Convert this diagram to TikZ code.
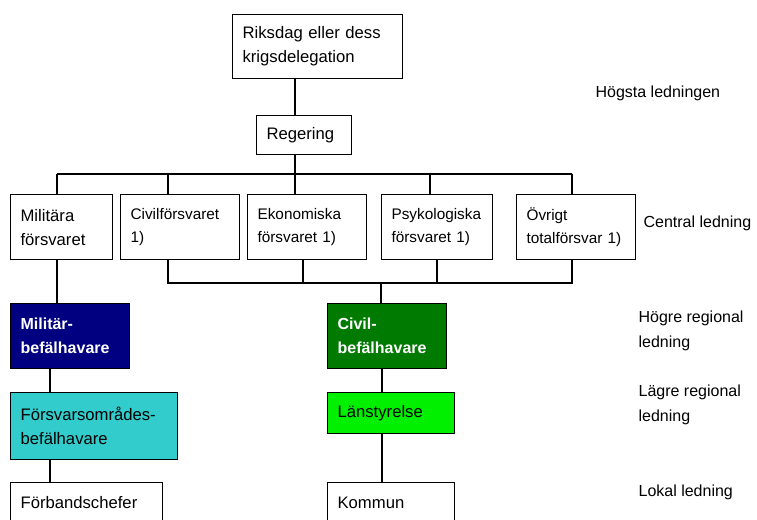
\documentclass[tikz,border=0pt]{standalone}
\usepackage{fontspec}
\setmainfont{Liberation Sans}
\definecolor{milblue}{HTML}{000080}
\definecolor{civgreen}{HTML}{007A00}
\definecolor{forcyan}{HTML}{33CCCC}
\definecolor{lanlime}{HTML}{00F000}
\begin{document}
\begin{tikzpicture}[x=0.75pt,y=-0.75pt,line width=0.9pt,
    box/.style={draw,anchor=north west,inner xsep=7.5pt,inner ysep=2pt,align=left,
      font=\fontsize{12.5}{18}\selectfont},
    small/.style={font=\fontsize{11.5}{17}\selectfont},
    dark/.style={text=white,font=\fontsize{12}{18}\selectfont\bfseries},
    level/.style={anchor=west,inner sep=0pt,align=left,font=\fontsize{12}{18.75}\selectfont}]
\useasboundingbox (0,0) rectangle (757,519);

% top
\node[box,text width=112.5pt,minimum height=48pt] (riksdag) at (232,14) {Riksdag eller dess\\krigsdelegation};
\node[box,text width=56.25pt,minimum height=29.25pt] (regering) at (256,115) {Regering};

% central row
\node[box,text width=61.5pt,minimum height=48.75pt] (mil) at (10,194) {Militära\\försvaret};
\node[box,small,text width=74.25pt,minimum height=48.75pt] (civ) at (120,194) {Civilförsvaret\\1)};
\node[box,small,text width=74.25pt,minimum height=48.75pt] (eko) at (247,194) {Ekonomiska\\försvaret 1)};
\node[box,small,text width=68.25pt,minimum height=48.75pt] (psy) at (381,194) {Psykologiska\\försvaret 1)};
\node[box,small,text width=74.25pt,minimum height=48.75pt] (ovr) at (516,194) {Övrigt\\totalförsvar 1)};

% regional and local
\node[box,dark,fill=milblue,text width=74.25pt,minimum height=48.75pt] (milbef) at (10,303) {Militär-\\befälhavare};
\node[box,dark,fill=civgreen,text width=74.25pt,minimum height=48.75pt] (civbef) at (327,303) {Civil-\\befälhavare};
\node[box,fill=forcyan,text width=110.25pt,minimum height=50.25pt] (fobef) at (10,392) {Försvarsområdes-\\befälhavare};
\node[box,fill=lanlime,text width=80.25pt,minimum height=30.75pt] (lan) at (327,392) {Länstyrelse};
\node[box,text width=99pt,minimum height=30pt] (forband) at (10,482) {Förbandschefer};
\node[box,text width=80.25pt,minimum height=30pt] (kommun) at (327,482) {Kommun};

% levels
\node[level] (hogsta) at (595,93) {Högsta ledningen};
\node[level] (central) at (643,223) {Central ledning};
\node[level] (hogre) at (638,331) {Högre regional\\ledning};
\node[level] (lagre) at (638,405) {Lägre regional\\ledning};
\node[level] (lokal) at (638,492) {Lokal ledning};

% connectors
\coordinate (trunk) at (295,174);
\coordinate (topL) at (57,174);
\coordinate (topR) at (572,174);
\coordinate (lowL) at (168,283);
\coordinate (lowR) at (572,283);
\draw (riksdag.south -| trunk) -- (regering.north -| trunk);
\draw (regering.south -| trunk) -- (trunk);
\draw (topL) -- (topR);
\foreach \n/\x in {mil/57,civ/168,eko/295,psy/430,ovr/572}
  \draw (\n.north -| \x,0) -- ++(0,-20);
\draw (lowL) -- (lowR);
\foreach \n/\x in {civ/168,eko/303,psy/437,ovr/572}
  \draw (\n.south -| \x,0) -- ++(0,24);
\draw (civbef.north -| 381,0) -- ++(0,-20);
\draw (mil.south -| 57,0) -- (milbef.north -| 57,0);
\draw (milbef.south -| 50,0) -- (fobef.north -| 50,0);
\draw (fobef.south -| 50,0) -- (forband.north -| 50,0);
\draw (civbef.south -| 382,0) -- (lan.north -| 382,0);
\draw (lan.south -| 382,0) -- (kommun.north -| 382,0);
\end{tikzpicture}
\end{document}
